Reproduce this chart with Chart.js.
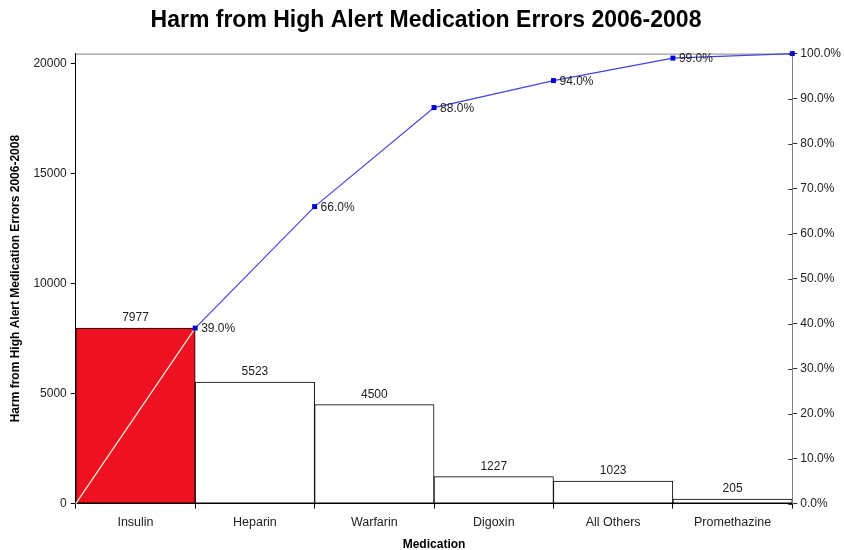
<!DOCTYPE html>
<html>
<head>
<meta charset="utf-8">
<script src="https://cdn.jsdelivr.net/npm/chart.js@4.4.1/dist/chart.umd.min.js"></script>
<style>
  html, body { margin: 0; padding: 0; background: #fff; }
  #wrap { width: 844px; height: 550px; }
</style>
</head>
<body>
<div id="wrap"><canvas id="myChart" width="844" height="550"></canvas></div>
<script>
// data
var medications = ["Insulin", "Heparin", "Warfarin", "Digoxin", "All Others", "Promethazine"];
var harmCounts = [7977, 5523, 4500, 1227, 1023, 205];
var cumPercent = [39.0, 66.0, 88.0, 94.0, 99.0, 100.0];
var barColors = ["#ee1122", "#ffffff", "#ffffff", "#ffffff", "#ffffff", "#ffffff"];
var countTicks = [0, 5000, 10000, 15000, 20000];
var pctTicks = [0, 10, 20, 30, 40, 50, 60, 70, 80, 90, 100];

var total = 0;
harmCounts.forEach(function(v){ total += v; });

// pareto line starts at the origin, then one point at the right edge of each bar
var lineData = [{x: 0, y: 0}];
cumPercent.forEach(function(p, i){ lineData.push({x: i + 1, y: p}); });

var fontName = "'Liberation Sans', Arial, sans-serif";

/* =====================
  labels + frame
===================== */
var paretoLabels = {
  id: 'paretoLabels',
  beforeDatasetsDraw: function(chart) {
    var ctx = chart.ctx, a = chart.chartArea;
    ctx.save();
    ctx.strokeStyle = '#808080';
    ctx.lineWidth = 1;
    ctx.beginPath();
    ctx.moveTo(a.left, a.top + 0.5);
    ctx.lineTo(a.right, a.top + 0.5);
    ctx.stroke();
    ctx.restore();
  },
  afterDatasetsDraw: function(chart) {
    var ctx = chart.ctx;
    ctx.save();
    ctx.font = '12px ' + fontName;
    ctx.fillStyle = '#222';

    // values over the bars
    var bars = chart.getDatasetMeta(0);
    ctx.textAlign = 'center';
    ctx.textBaseline = 'bottom';
    bars.data.forEach(function(el, i){
      ctx.fillText(String(harmCounts[i]), el.x, el.y - 4);
    });

    // cumulative percentages next to the points (last one sits on the axis label)
    var line = chart.getDatasetMeta(1);
    ctx.textAlign = 'left';
    ctx.textBaseline = 'middle';
    line.data.forEach(function(el, i){
      if (i === 0 || i === line.data.length - 1) return;
      ctx.fillText(cumPercent[i - 1].toFixed(1) + '%', el.x + 6, el.y + 1);
    });

    // right axis ticks cross the axis line
    var y2 = chart.scales.y2;
    ctx.strokeStyle = '#333';
    ctx.lineWidth = 1;
    ctx.beginPath();
    y2.ticks.forEach(function(t){
      var py = Math.round(y2.getPixelForValue(t.value)) + 0.5;
      ctx.moveTo(y2.left - 4, py);
      ctx.lineTo(y2.left, py);
    });
    ctx.stroke();
    ctx.restore();
  }
};

var config = {
  type: 'bar',
  data: {
    labels: medications,
    datasets: [{
      label: 'Harm',
      data: harmCounts,
      backgroundColor: barColors,
      borderColor: '#000',
      borderWidth: 1,
      borderSkipped: false,
      categoryPercentage: 1.0,
      barPercentage: 1.0,
      grouped: false,
      xAxisID: 'x',
      yAxisID: 'y',
      order: 1
    }, {
      type: 'line',
      label: 'Cumulative %',
      data: lineData,
      xAxisID: 'x2',
      yAxisID: 'y2',
      borderWidth: 1.2,
      borderColor: '#4444dd',
      segment: {
        borderColor: function(c){ return c.p0DataIndex === 0 ? '#fff6d8' : '#4444dd'; }
      },
      pointStyle: 'rect',
      pointRadius: function(c){ return c.dataIndex === 0 ? 0 : 3.5; },
      pointBackgroundColor: '#0000dd',
      pointBorderColor: '#0000dd',
      pointBorderWidth: 0,
      tension: 0,
      clip: false,
      order: 0
    }]
  },
  options: {
    responsive: false,
    animation: false,
    layout: { padding: { left: 8, right: 0, top: 0, bottom: -2 } },
    plugins: {
      legend: { display: false },
      tooltip: { enabled: false },
      title: {
        display: true,
        text: 'Harm from High Alert Medication Errors 2006-2008',
        color: '#000',
        font: { family: fontName, size: 23, weight: 'bold' },
        padding: { top: 7, bottom: 19 }
      }
    },
    scales: {
      x: {
        type: 'category',
        offset: true,
        grid: { display: true, drawOnChartArea: false, offset: true, tickLength: 5, color: '#000' },
        border: { display: true, color: '#000', width: 1 },
        ticks: { color: '#222', font: { family: fontName, size: 12.5 }, padding: 6, maxRotation: 0 },
        title: { display: true, text: 'Medication', color: '#000', font: { family: fontName, size: 12, weight: 'bold' }, padding: { top: 2, bottom: 0 } }
      },
      x2: {
        type: 'linear',
        display: false,
        offset: false,
        grid: { offset: false },
        min: 0,
        max: medications.length
      },
      y: {
        position: 'left',
        min: 0,
        max: total,
        afterBuildTicks: function(scale){
          scale.ticks = countTicks.map(function(v){ return {value: v}; });
        },
        grid: { display: true, drawOnChartArea: false, tickLength: 5, color: '#000' },
        border: { display: true, color: '#000', width: 1 },
        ticks: {
          color: '#222',
          font: { family: fontName, size: 12 },
          padding: 4,
          callback: function(v){ return String(v); }
        },
        title: { display: true, text: 'Harm from High Alert Medication Errors 2006-2008', color: '#000', font: { family: fontName, size: 12, weight: 'bold' }, padding: { top: 0, bottom: 7 } }
      },
      y2: {
        position: 'right',
        min: 0,
        max: 100,
        afterBuildTicks: function(scale){
          scale.ticks = pctTicks.map(function(v){ return {value: v}; });
        },
        grid: { display: true, drawOnChartArea: false, tickLength: 5, color: '#333' },
        border: { display: true, color: '#808080', width: 1 },
        ticks: {
          color: '#222',
          font: { family: fontName, size: 12 },
          padding: 3,
          callback: function(v){ return v.toFixed(1) + '%'; }
        }
      }
    }
  },
  plugins: [paretoLabels]
};

var can = document.getElementById('myChart');
var ctx = can.getContext('2d');
var myChart = new Chart(ctx, config);
</script>
</body>
</html>
